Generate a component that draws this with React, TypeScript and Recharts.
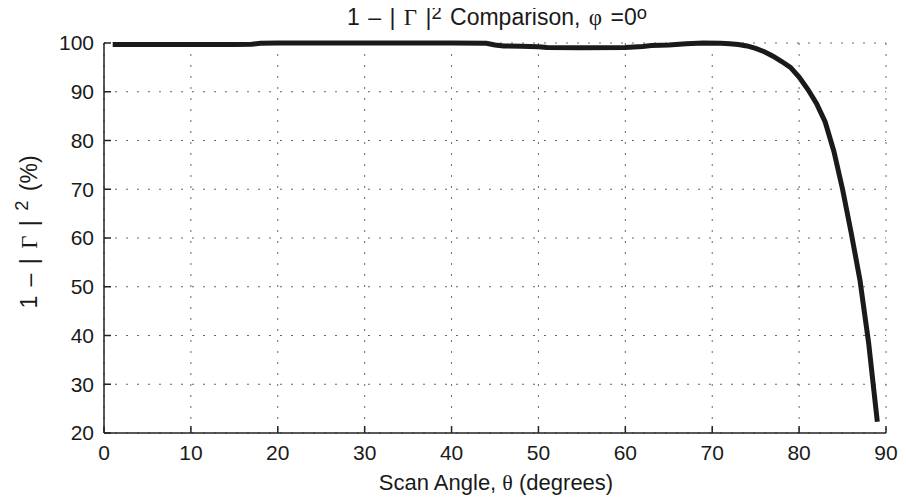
import { CartesianGrid, Line, LineChart, XAxis, YAxis } from "recharts";

// scan angle (deg) and 1 - |Gamma|^2 (%)
const angles = [
  1, 5, 10, 15, 17, 18, 20, 25, 30, 35, 40, 44, 45, 46, 48, 50, 51, 55, 60, 62,
  63, 65, 67, 69, 71, 72, 73, 74, 75, 76, 77, 78, 79, 80, 81, 82, 83, 84, 85,
  86, 87, 88, 89,
];
const efficiency = [
  99.7, 99.7, 99.7, 99.7, 99.75, 99.95, 100, 100, 100, 100, 100, 99.95, 99.6,
  99.4, 99.35, 99.25, 99.1, 99.05, 99.1, 99.3, 99.5, 99.6, 99.85, 100, 99.95,
  99.85, 99.7, 99.4, 98.9, 98.2, 97.3, 96.2, 95.0, 93.0, 90.5, 87.6, 83.8, 77.8,
  70.0, 61.0, 51.4, 38.5, 22.3,
];
const xTicks = [0, 10, 20, 30, 40, 50, 60, 70, 80, 90];
const yTicks = [20, 30, 40, 50, 60, 70, 80, 90, 100];

const data = angles.map((deg, i) => ({ deg, value: efficiency[i] }));

const sans = "'Liberation Sans', Arial, Helvetica, sans-serif";
const serif = "'Liberation Serif', 'Times New Roman', serif";
const ink = "#1a1a1a";
const axisColor = "#222";

const tickStyle = { fontSize: 21, fill: ink, fontFamily: sans };

const sup = (s: string, raise = 0.5) => (
  <span
    style={{ position: "relative", top: `-${raise}em`, fontSize: "0.8em", lineHeight: 1 }}
  >
    {s}
  </span>
);
const gk = (s: string) => <span style={{ fontFamily: serif }}>{s}</span>;

const overlay = (x: number, y: number, size: number, gap: number, rotate = 0) =>
  ({
    position: "absolute",
    zIndex: 2,
    left: x,
    top: y,
    transform: `translate(-50%, -50%) rotate(${rotate}deg)`,
    fontFamily: sans,
    fontSize: size,
    wordSpacing: gap,
    lineHeight: 1,
    color: ink,
    whiteSpace: "nowrap",
    pointerEvents: "none",
  }) as const;

export default function App() {
  return (
    <div style={{ position: "relative", width: 890, height: 487 }}>
      <LineChart
        width={890}
        height={487}
        data={data}
        margin={{ top: 35, right: 12, bottom: 0, left: 0 }}
      >
        <CartesianGrid stroke="#666" strokeDasharray="2 9" />
        <XAxis
          dataKey="deg"
          type="number"
          domain={[0, 90]}
          ticks={xTicks}
          height={62}
          tickSize={-7}
          tickMargin={19}
          stroke={axisColor}
          strokeWidth={1.5}
          tick={tickStyle}
        />
        <XAxis
          xAxisId="top"
          orientation="top"
          dataKey="deg"
          type="number"
          domain={[0, 90]}
          ticks={xTicks}
          height={0}
          tickSize={-7}
          tick={false}
          stroke={axisColor}
          strokeWidth={1.5}
        />
        <YAxis
          type="number"
          domain={[20, 100]}
          ticks={yTicks}
          width={96}
          tickSize={-7}
          tickMargin={17}
          stroke={axisColor}
          strokeWidth={1.5}
          tick={tickStyle}
        />
        <YAxis
          yAxisId="right"
          orientation="right"
          type="number"
          domain={[20, 100]}
          ticks={yTicks}
          width={0}
          tickSize={-7}
          tick={false}
          stroke={axisColor}
          strokeWidth={1.5}
        />
        <Line
          dataKey="value"
          type="linear"
          stroke={ink}
          strokeWidth={5}
          dot={false}
          isAnimationActive={false}
        />
      </LineChart>
      <div style={overlay(489, 9, 23, 2)}>
        1 – | {gk("Γ")} |{sup("2", 0.35)} Comparison, {gk("φ")} =0{sup("o", 0.35)}
      </div>
      <div style={overlay(488, 475, 22, 0)}>
        Scan Angle, {gk("θ")} (degrees)
      </div>
      <div style={overlay(21, 224, 23, 3, -90)}>
        1 – | {gk("Γ")} | {sup("2")} (%)
      </div>
    </div>
  );
}
